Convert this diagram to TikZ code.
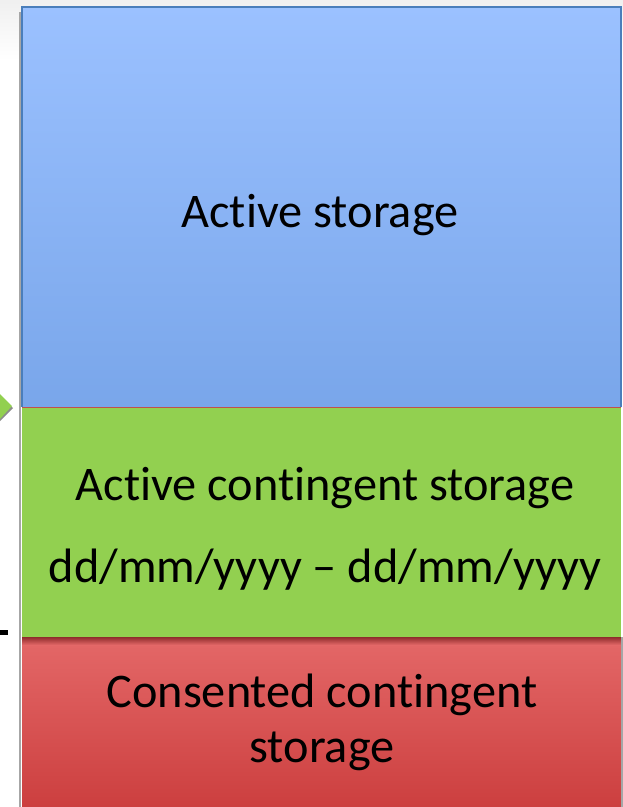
\documentclass[tikz,border=0pt]{standalone}
\usepackage{fontspec}
\setmainfont{Carlito}[Ligatures={NoCommon}]
\usetikzlibrary{positioning}

\definecolor{blueTop}{HTML}{9BC1FF}
\definecolor{blueBot}{HTML}{79A6EA}
\definecolor{blueEdge}{HTML}{4A7EBB}
\definecolor{greenFill}{HTML}{92D050}
\definecolor{redTop}{HTML}{E46868}
\definecolor{redBot}{HTML}{CC3F3F}
\definecolor{redEdge}{HTML}{C0504D}

\tikzset{
  stor/.style={inner sep=0pt, outer sep=0pt, minimum width=599pt, anchor=north west},
  lbl/.style={font=\fontsize{48.3}{55}\selectfont, align=center, inner sep=0pt}
}

\begin{document}
\begin{tikzpicture}[x=1pt,y=-1pt]
      \useasboundingbox (0,0) rectangle (623,807);
      \shade[top color=black!6, bottom color=white] (0,0) rectangle (623,60);
      % the three storage boxes
      \node[stor, minimum height=400pt, top color=blueTop, bottom color=blueBot] (active) at (22,7) {};
      \node[stor, minimum height=230pt, fill=greenFill] (contin) at (22,407) {};
      \node[stor, minimum height=170pt, top color=redTop, bottom color=redBot] (consent) at (22,637) {};
      \shade[top color=redBot!70!black, bottom color=redTop] (22,637) rectangle (621,645);
      \draw[blueEdge, line width=2pt] (active.south west) -- (active.north west) -- (active.north east) -- (active.south east);
      \draw[redEdge, line width=1pt] (contin.north west) -- (contin.north east);
      \draw[black!35, line width=1.5pt] (20,12) -- (20,807);
      \draw[black!35, line width=1.5pt] (622,637) -- (622,807);
      % labels
      \node[lbl] (activeTxt) at (320,215) {Active storage};
      \node[lbl] (continTxt) at (325,529) {Active contingent storage\\[27pt]dd/mm/yyyy – dd/mm/yyyy};
      \node[lbl] (consentTxt) at (322,722) {Consented contingent\\storage};
      % bits of the slide on the left
      \fill[black!45] (0,396) -- (13,408) -- (0,421) -- cycle;
      \fill[greenFill] (0,394) -- (12,406) -- (0,419) -- cycle;
      \fill[black] (0,630) rectangle (8,635);
    \end{tikzpicture}
\end{document}
